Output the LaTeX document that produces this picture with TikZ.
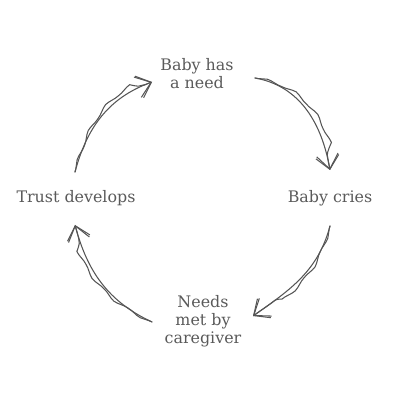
\documentclass[tikz,border=0pt]{standalone}
\usepackage{fontspec}
\setmainfont{DejaVu Serif}
\usepackage{xcolor}
\usetikzlibrary{
    arrows.meta,
    calc,
    decorations.pathmorphing,
}
\definecolor{inkgray}{HTML}{555555}
\definecolor{textgray}{HTML}{5A5A5A}
\tikzset{
    % Text node styles
    stage/.style={align=center, inner sep=0pt, text=textgray,
                  font=\fontsize{11.3}{12.8}\selectfont},
    % Arrow styles
    strand/.style={draw=inkgray, line width=0.75pt, line cap=round},
    cycle arrow/.style={strand, -{Straight Barb[length=3.6mm, width=5.4mm]}},
    twist arrow/.style={strand, -{Straight Barb[length=3.2mm, width=5.8mm]},
        decorate, decoration={snake, amplitude=0.9pt, segment length=22pt,
                              pre length=2pt, post length=6pt}},
}

\begin{document}
\begin{tikzpicture}[x=0.025cm, y=0.025cm]
    \useasboundingbox (0,0) rectangle (400,400);

    % Stages of the cycle
    \node[stage] (need)  at (197,326) {Baby has\\a need};
    \node[stage] (cries) at (330,202) {Baby cries};
    \node[stage] (met)   at (203,79)  {Needs\\met by\\caregiver};
    \node[stage] (trust) at (76,202)  {Trust develops};

    % Sketchy arrows, two strands each
    \foreach \s in {cycle arrow, twist arrow} {
        \draw[\s] ($(need)+(58,-4)$) to[out=-10, in=100] ($(cries)+(0,28)$);
        \draw[\s] ($(cries)+(0,-28)$) to[out=-105, in=35] ($(met)+(50,5)$);
        \draw[\s] ($(met)+(-51,-1)$) to[out=155, in=-75] ($(trust)+(-1,-27)$);
        \draw[\s] ($(trust)+(-1,26)$) to[out=75, in=-160] ($(need)+(-45,-8)$);
    }
\end{tikzpicture}
\end{document}
